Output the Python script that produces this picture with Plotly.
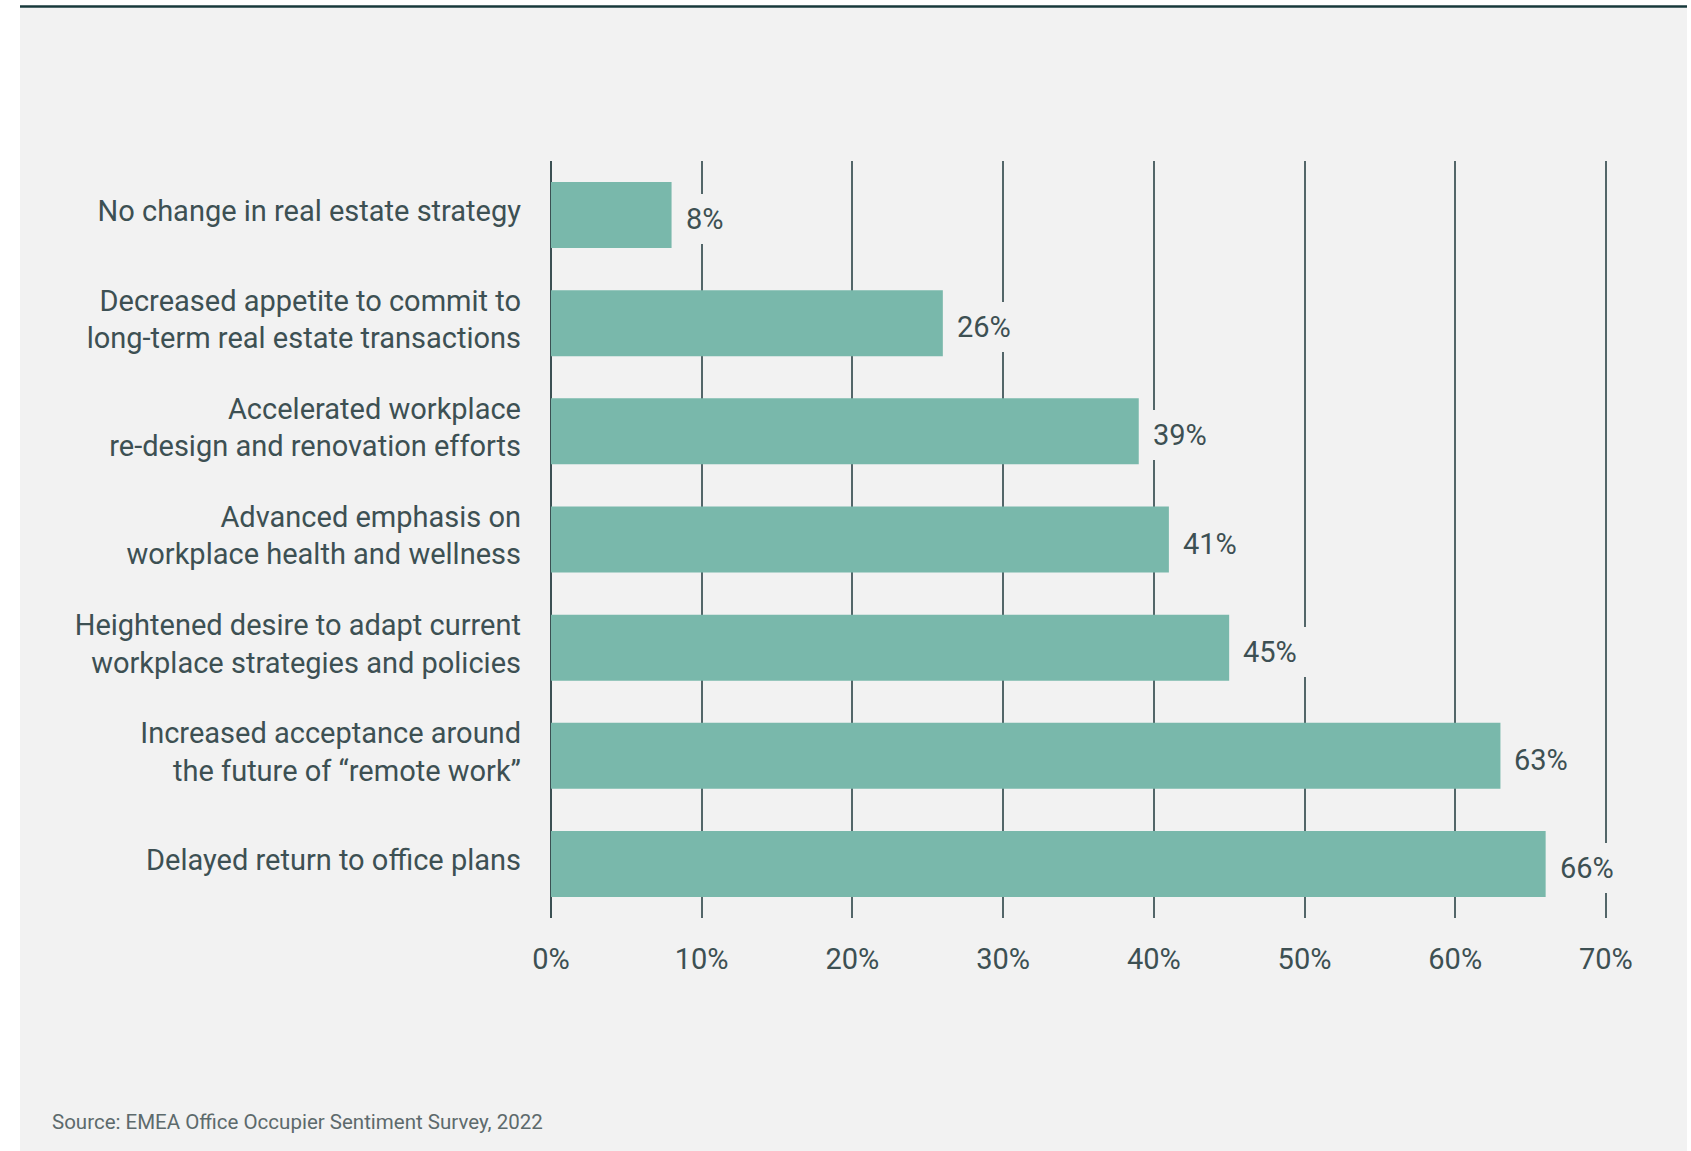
import plotly.graph_objects as go

# Survey responses: impact on real estate strategy (share of respondents, %)
categories = [
    "No change in real estate strategy",
    "Decreased appetite to commit to<br>long-term real estate transactions",
    "Accelerated workplace<br>re-design and renovation efforts",
    "Advanced emphasis on<br>workplace health and wellness",
    "Heightened desire to adapt current<br>workplace strategies and policies",
    "Increased acceptance around<br>the future of \u201cremote work\u201d",
    "Delayed return to office plans",
]
values = [8, 26, 39, 41, 45, 63, 66]
tick_values = [0, 10, 20, 30, 40, 50, 60, 70]
tick_labels = ["0%", "10%", "20%", "30%", "40%", "50%", "60%", "70%"]
source_note = "Source: EMEA Office Occupier Sentiment Survey, 2022"

# Page geometry (pixels)
W, H = 1691, 1151
M_L, M_R, M_T, M_B = 551, 70, 161, 233
PLOT_W = W - M_L - M_R
PLOT_H = H - M_T - M_B

PANEL = "#f2f2f2"
BAR = "#79b8ab"
TEXT = "#3d5053"
GRID = "#536669"
ZERO = "#3b5053"
FONT = "Roboto"


def px_x(px):
    return (px - M_L) / PLOT_W


def px_y(py):
    return (H - M_B - py) / PLOT_H


fig = go.Figure(
    go.Bar(
        x=values,
        y=categories,
        orientation="h",
        marker=dict(color=BAR, line=dict(width=0)),
        hoverinfo="skip",
    )
)

# Value labels with a panel-coloured box so grid lines break around them
for cat, val in zip(categories, values):
    fig.add_annotation(
        x=val,
        y=cat,
        xref="x",
        yref="y",
        text=f"{val}%",
        showarrow=False,
        xanchor="left",
        yanchor="middle",
        align="left",
        width=58,
        xshift=6,
        yshift=-4,
        bgcolor=PANEL,
        borderpad=8,
        borderwidth=0,
        font=dict(family=FONT, size=29, color=TEXT),
    )

fig.add_annotation(
    x=px_x(50),
    y=px_y(1122),
    xref="paper",
    yref="paper",
    text=source_note,
    showarrow=False,
    xanchor="left",
    yanchor="middle",
    font=dict(family=FONT, size=20.5, color="#5d6a6c"),
)

# Grey panel and dark rule across the top
fig.add_shape(
    type="rect",
    xref="paper",
    yref="paper",
    x0=px_x(20),
    x1=px_x(1687),
    y0=px_y(H + 2),
    y1=px_y(8),
    fillcolor=PANEL,
    line=dict(width=0),
    layer="below",
)
fig.add_shape(
    type="line",
    xref="paper",
    yref="paper",
    x0=px_x(20),
    x1=px_x(1687),
    y0=px_y(6.5),
    y1=px_y(6.5),
    line=dict(color="#17393b", width=2.5),
    layer="below",
)

fig.update_layout(
    width=W,
    height=H,
    margin=dict(l=M_L, r=M_R, t=M_T, b=M_B, pad=0),
    paper_bgcolor="white",
    plot_bgcolor="rgba(0,0,0,0)",
    font=dict(family=FONT, size=29, color=TEXT),
    bargap=0.39,
    showlegend=False,
)

fig.update_xaxes(
    range=[0, 71],
    tickvals=tick_values,
    ticktext=tick_labels,
    showgrid=True,
    gridcolor=GRID,
    gridwidth=2,
    zeroline=True,
    zerolinecolor=ZERO,
    zerolinewidth=2.4,
    showline=False,
    ticks="",
    ticklabelstandoff=21,
    tickfont=dict(family=FONT, size=29, color=TEXT),
    fixedrange=True,
)

fig.update_yaxes(
    autorange="reversed",
    showgrid=False,
    zeroline=False,
    showline=False,
    ticks="",
    ticklabelstandoff=29,
    ticklabelshift=4,
    tickfont=dict(family=FONT, size=29, color=TEXT),
    fixedrange=True,
)

fig.write_html("out.html", config=dict(displayModeBar=False))
